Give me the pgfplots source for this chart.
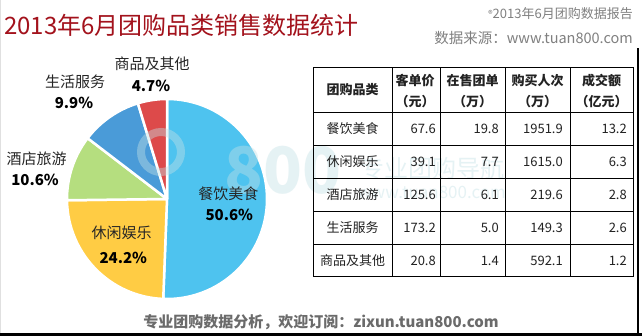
\documentclass[border=0pt]{standalone}
\usepackage{fontspec}
\setmainfont{Noto Sans CJK SC}
\usepackage{pgfplots}
\pgfplotsset{compat=1.18}
\usepackage{pgfplotstable}
\definecolor{cFood}{HTML}{4EC3EF}
\definecolor{cFun}{HTML}{FFCC44}
\definecolor{cHotel}{HTML}{B5DE7F}
\definecolor{cLife}{HTML}{4A9BD8}
\definecolor{cGoods}{HTML}{DD4A4A}
\definecolor{titlered}{HTML}{A3121C}
\definecolor{wm}{RGB}{195,225,230}
\definecolor{txt}{HTML}{222222}

% category shares (%)
\pgfplotstableread{
idx pct
0 50.6
1 24.2
2 10.6
3 9.9
4 4.7
}\piedata

\begin{document}
\begin{tikzpicture}[x=1pt,y=1pt]
\useasboundingbox (0,0) rectangle (642,336);
\fill[white] (0,0) rectangle (642,336);
\draw[black!12, line width=1pt] (0.5,0) -- (0.5,336);
\fill[black] (0,0) rectangle (642,3);
\fill[black] (636.8,0) rectangle (638.8,288);

% title and header texts
\node[anchor=west, text=titlered, font=\fontsize{24}{28}\selectfont, inner sep=0pt] at (4,311) {2013年6月团购品类销售数据统计};
\node[anchor=east, text=black!50, font=\fontsize{13}{15}\selectfont, inner sep=0pt] at (633,322) {\raisebox{1pt}{\fontsize{9}{9}\selectfont ®}2013年6月团购数据报告};
\node[anchor=east, text=black!50, font=\fontsize{14.5}{17}\selectfont, inner sep=0pt] at (633,298) {数据来源：www.tuan800.com};
\node[text=black!58, font=\bfseries\fontsize{15}{17}\selectfont, inner sep=0pt] at (321,14) {专业团购数据分析，欢迎订阅：zixun.tuan800.com};

% angles from the shares
\pgfplotstablegetelem{0}{pct}\of\piedata \let\pA\pgfplotsretval
\pgfplotstablegetelem{1}{pct}\of\piedata \let\pB\pgfplotsretval
\pgfplotstablegetelem{2}{pct}\of\piedata \let\pC\pgfplotsretval
\pgfplotstablegetelem{3}{pct}\of\piedata \let\pD\pgfplotsretval
\pgfplotstablegetelem{4}{pct}\of\piedata \let\pE\pgfplotsretval
\pgfmathsetmacro\aA{90}
\pgfmathsetmacro\aB{\aA-3.6*\pA}
\pgfmathsetmacro\aC{\aB-3.6*\pB}
\pgfmathsetmacro\aD{\aC-3.6*\pC}
\pgfmathsetmacro\aE{\aD-3.6*\pD}
\pgfmathsetmacro\aF{\aE-3.6*\pE}

\begin{axis}[at={(167,137)}, anchor=center, x=1pt, y=1pt,
  xmin=-100, xmax=100, ymin=-100, ymax=100, hide axis, clip=false]
\addplot[draw=none, forget plot] coordinates {(0,0)};
\fill[cFood, draw=white, line width=2.5pt, line join=round] (axis cs:0,0) -- ++(\aA:100pt) arc[start angle=\aA, end angle=\aB, radius=100pt] -- cycle;
\fill[cFun, draw=white, line width=2.5pt, line join=round] (axis cs:0,0) -- ++(\aB:100pt) arc[start angle=\aB, end angle=\aC, radius=100pt] -- cycle;
\fill[cHotel, draw=white, line width=2.5pt, line join=round] (axis cs:0,0) -- ++(\aC:100pt) arc[start angle=\aC, end angle=\aD, radius=100pt] -- cycle;
\fill[cLife, draw=white, line width=2.5pt, line join=round] (axis cs:0,0) -- ++(\aD:100pt) arc[start angle=\aD, end angle=\aE, radius=100pt] -- cycle;
\fill[cGoods, draw=white, line width=2.5pt, line join=round] (axis cs:0,0) -- ++(\aE:100pt) arc[start angle=\aE, end angle=\aF, radius=100pt] -- cycle;
\end{axis}

% watermark
\begin{scope}[opacity=0.42]
\draw[wm, line width=8pt] (161,184) circle (20);
\node[font=\bfseries\fontsize{64}{64}\selectfont, text=wm] at (283,166) {800};
\node[font=\fontsize{24}{26}\selectfont, text=wm] at (432,168) {专业团购导航};
\node[font=\fontsize{17}{19}\selectfont, text=wm] at (432,144) {www.tuan800.com};
\end{scope}

% pie labels
\begin{scope}[font=\fontsize{15}{17}\selectfont, inner sep=0pt]
\node[text=black!85] at (152,272.7) {商品及其他};
\node[font=\bfseries\fontsize{15}{17}\selectfont] at (151,250) {4.7\%};
\node[text=black!85] at (75,254.3) {生活服务};
\node[font=\bfseries\fontsize{15}{17}\selectfont] at (74,233.3) {9.9\%};
\node[text=black!85] at (36.7,177.7) {酒店旅游};
\node[font=\bfseries\fontsize{15}{17}\selectfont] at (35,156) {10.6\%};
\node[text=black!85] at (121.7,102.7) {休闲娱乐};
\node[font=\bfseries\fontsize{15}{17}\selectfont] at (123.3,77.7) {24.2\%};
\node[text=black!85] at (228.3,142) {餐饮美食};
\node[font=\bfseries\fontsize{15}{17}\selectfont] at (229.3,121) {50.6\%};
\end{scope}

% table
\draw[black, line width=0.6pt] (313,224) -- (633,224);
\foreach \yy in {191,158,125,92} \draw[black, line width=0.6pt] (313,\yy) -- (633,\yy);
\foreach \xx in {392,440,505,570} \draw[black, line width=0.6pt] (\xx,59) -- (\xx,268);
\draw[black, line width=1pt] (313,59) rectangle (633,268);

\begin{scope}[font=\bfseries\fontsize{13}{15}\selectfont, text=txt, inner sep=0pt]
\node at (352.5,246) {团购品类};
\node at (415,255) {客单价};   \node at (415,234) {（元）};
\node at (472.5,255) {在售团单}; \node at (472.5,234) {（万）};
\node at (537.5,255) {购买人次}; \node at (537.5,234) {（万）};
\node at (601.5,255) {成交额};   \node at (601.5,234) {（亿元）};
\end{scope}

\begin{scope}[font=\fontsize{13}{15}\selectfont, text=txt, inner sep=0pt]
\node at (352.5,207.5) {餐饮美食};
\node[anchor=east] at (436,207.5) {67.6};
\node[anchor=east] at (499,207.5) {19.8};
\node[anchor=east] at (563,207.5) {1951.9};
\node[anchor=east] at (627,207.5) {13.2};
\node at (352.5,174.5) {休闲娱乐};
\node[anchor=east] at (436,174.5) {39.1};
\node[anchor=east] at (499,174.5) {7.7};
\node[anchor=east] at (563,174.5) {1615.0};
\node[anchor=east] at (627,174.5) {6.3};
\node at (352.5,141.5) {酒店旅游};
\node[anchor=east] at (436,141.5) {125.6};
\node[anchor=east] at (499,141.5) {6.1};
\node[anchor=east] at (563,141.5) {219.6};
\node[anchor=east] at (627,141.5) {2.8};
\node at (352.5,108.5) {生活服务};
\node[anchor=east] at (436,108.5) {173.2};
\node[anchor=east] at (499,108.5) {5.0};
\node[anchor=east] at (563,108.5) {149.3};
\node[anchor=east] at (627,108.5) {2.6};
\node at (352.5,75.5) {商品及其他};
\node[anchor=east] at (436,75.5) {20.8};
\node[anchor=east] at (499,75.5) {1.4};
\node[anchor=east] at (563,75.5) {592.1};
\node[anchor=east] at (627,75.5) {1.2};
\end{scope}
\end{tikzpicture}
\end{document}
